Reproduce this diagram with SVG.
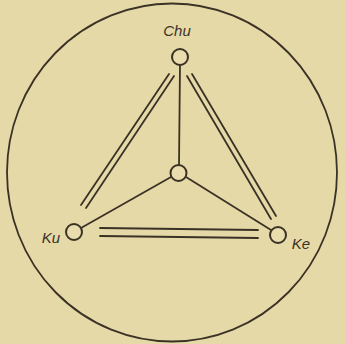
<svg xmlns="http://www.w3.org/2000/svg" width="345" height="344" viewBox="0 0 345 344">
<style>
.ln{stroke:#3b3226;stroke-width:1.8;fill:none;stroke-linecap:round}
.nd{stroke:#3b3226;stroke-width:2;fill:#e9ddae}
.lb{font-family:"Liberation Sans",sans-serif;font-style:italic;font-size:15px;fill:#3b3226}
</style>
<rect width="345" height="344" fill="#e6d9a8"/>
<ellipse cx="172" cy="172.5" rx="165" ry="169" class="ln" stroke-width="1.5"/>
<g id="connectors">
<line class="ln" x1="180" y1="65" x2="179" y2="165"/>
<line class="ln" x1="171" y1="177" x2="81" y2="228"/>
<line class="ln" x1="186" y1="177" x2="271" y2="230"/>
<line class="ln" x1="169" y1="74" x2="81" y2="205"/>
<line class="ln" x1="174" y1="76" x2="86" y2="208"/>
<line class="ln" x1="187" y1="76" x2="271" y2="219"/>
<line class="ln" x1="192" y1="74" x2="276" y2="216"/>
<line class="ln" x1="100" y1="228" x2="258" y2="230"/>
<line class="ln" x1="100" y1="236" x2="258" y2="238"/>
</g>
<g id="chu"><circle class="nd" cx="180" cy="57" r="8"/><text class="lb" x="177" y="36" text-anchor="middle">Chu</text></g>
<g id="center"><circle class="nd" cx="178.5" cy="173" r="8"/></g>
<g id="ku"><circle class="nd" cx="74" cy="232" r="8"/><text class="lb" x="51" y="243" text-anchor="middle">Ku</text></g>
<g id="ke"><circle class="nd" cx="278" cy="235" r="8"/><text class="lb" x="301" y="249" text-anchor="middle">Ke</text></g>
</svg>
